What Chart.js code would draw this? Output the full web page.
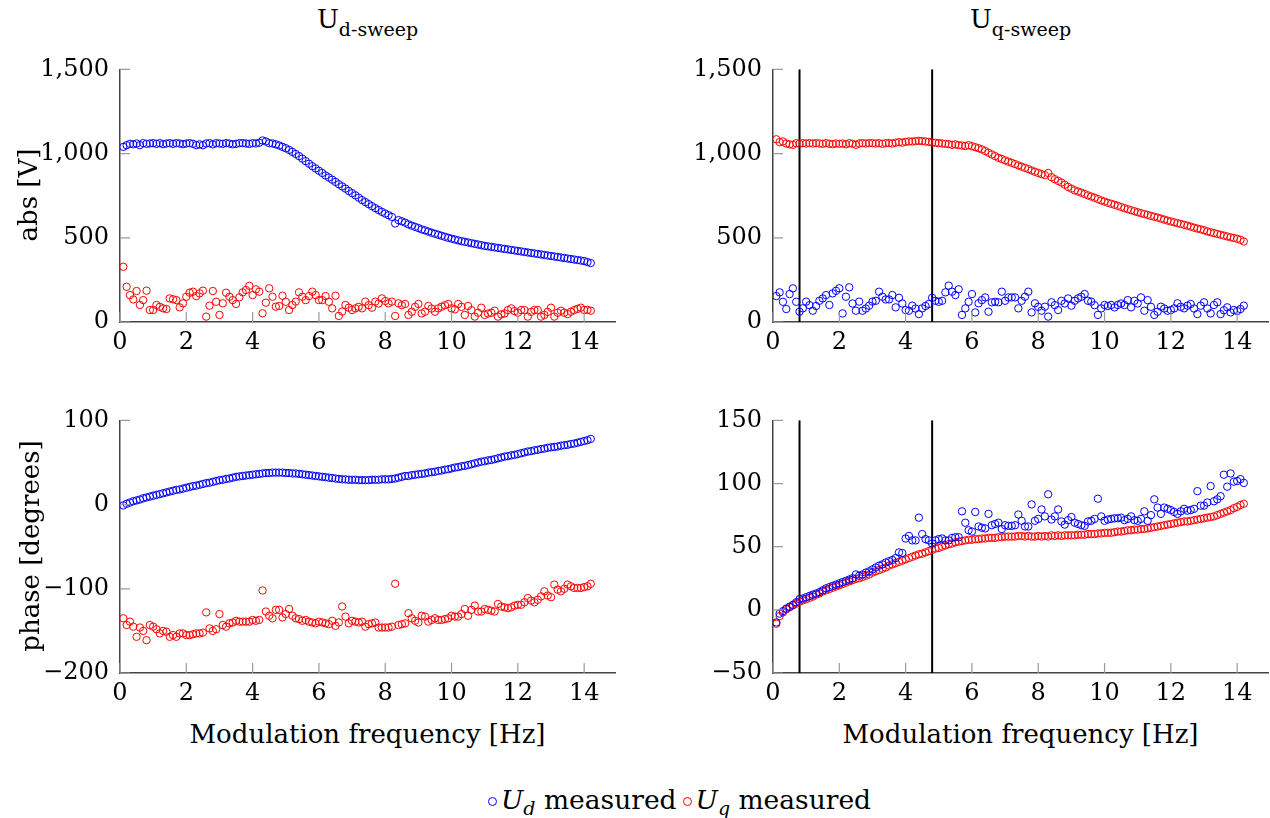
<!DOCTYPE html>
<html>
<head>
<meta charset="utf-8">
<script src="https://cdn.jsdelivr.net/npm/chart.js@4.4.1/dist/chart.umd.min.js"></script>
<style>
  body { margin: 0; background: #fff; }
  #fig { position: relative; width: 1270px; height: 818px; font-family: 'DejaVu Serif', serif; color: #000; overflow: hidden; }
  canvas { position: absolute; }
  .title { position: absolute; text-align: center; font-size: 26px; line-height: 26px; white-space: nowrap; }
  .title sub { font-size: 19px; vertical-align: -8px; line-height: 0; }
  .xlab { position: absolute; text-align: center; font-size: 26px; line-height: 26px; white-space: nowrap; }
  .ylab { position: absolute; font-size: 26px; line-height: 26px; white-space: nowrap; transform: translate(-50%, -50%) rotate(-90deg); }
  #legend { position: absolute; left: 488px; top: 787px; font-size: 26.5px; line-height: 26px; white-space: nowrap; display: flex; align-items: baseline; }
  #legend .mk { display: inline-block; width: 7px; height: 7px; border-radius: 50%; border: 1px solid; margin-right: 4px; position: relative; top: -3px; }
  #legend sub { font-size: 19px; vertical-align: -6px; line-height: 0; }
</style>
</head>
<body>
<div id="fig">
  <canvas id="c1" width="635" height="313" style="left:0;top:43px"></canvas>
  <canvas id="c2" width="617" height="313" style="left:653px;top:43px"></canvas>
  <canvas id="c3" width="635" height="313" style="left:0;top:394px"></canvas>
  <canvas id="c4" width="617" height="313" style="left:653px;top:394px"></canvas>

  <div class="title" style="left:120px;width:495px;top:6px">U<sub>d-sweep</sub></div>
  <div class="title" style="left:773px;width:495px;top:6px">U<sub>q-sweep</sub></div>
  <div class="ylab" style="left:28px;top:195px">abs [V]</div>
  <div class="ylab" style="left:30px;top:546px">phase [degrees]</div>
  <div class="xlab" style="left:120px;width:495px;top:721px">Modulation frequency [Hz]</div>
  <div class="xlab" style="left:773px;width:495px;top:721px">Modulation frequency [Hz]</div>
  <div id="legend">
    <span class="mk" style="border-color:#0000ff"></span><i>U<sub>d</sub></i>&nbsp;measured
    <span class="mk" style="border-color:#ff0000;margin-left:6px"></span><i>U<sub>q</sub></i>&nbsp;measured
  </div>
</div>
<script>
// modulation frequencies [Hz]
const freq = [
  0.1,0.2,0.3,0.4,0.5,0.6,0.7,0.8,0.9,1.0,
  1.1,1.2,1.3,1.4,1.5,1.6,1.7,1.8,1.9,2.0,
  2.1,2.2,2.3,2.4,2.5,2.6,2.7,2.8,2.9,3.0,
  3.1,3.2,3.3,3.4,3.5,3.6,3.7,3.8,3.9,4.0,
  4.1,4.2,4.3,4.4,4.5,4.6,4.7,4.8,4.9,5.0,
  5.1,5.2,5.3,5.4,5.5,5.6,5.7,5.8,5.9,6.0,
  6.1,6.2,6.3,6.4,6.5,6.6,6.7,6.8,6.9,7.0,
  7.1,7.2,7.3,7.4,7.5,7.6,7.7,7.8,7.9,8.0,
  8.1,8.2,8.3,8.4,8.5,8.6,8.7,8.8,8.9,9.0,
  9.1,9.2,9.3,9.4,9.5,9.6,9.7,9.8,9.9,10.0,
  10.1,10.2,10.3,10.4,10.5,10.6,10.7,10.8,10.9,11.0,
  11.1,11.2,11.3,11.4,11.5,11.6,11.7,11.8,11.9,12.0,
  12.1,12.2,12.3,12.4,12.5,12.6,12.7,12.8,12.9,13.0,
  13.1,13.2,13.3,13.4,13.5,13.6,13.7,13.8,13.9,14.0,
  14.1,14.2
];

// U_d-sweep, abs [V]
const udAbsD = [
  1040,1050,1058,1055,1060,1050,1062,1058,1060,1062,
  1058,1062,1056,1060,1062,1058,1062,1060,1056,1060,
  1062,1058,1050,1055,1050,1060,1062,1055,1062,1060,
  1058,1062,1060,1055,1058,1062,1062,1060,1058,1062,
  1060,1065,1078,1072,1062,1060,1055,1048,1040,1032,
  1022,1010,998,985,970,955,940,925,912,898,
  885,870,858,845,832,818,805,792,778,765,
  752,738,724,712,700,688,676,665,654,644,
  634,624,585,605,598,590,580,572,565,558,
  550,544,537,530,524,518,512,506,500,495,
  490,485,480,476,472,468,464,460,456,452,
  449,446,443,440,437,434,431,428,425,422,
  419,416,413,410,407,404,401,398,395,392,
  389,386,383,380,377,374,371,368,365,362,
  356,350
];
const uqAbsD = [
  328,209,160,134,184,101,130,186,71,71,
  101,90,81,77,140,135,130,87,111,150,
  174,180,154,170,186,32,97,184,120,42,
  111,174,150,130,107,147,176,190,215,160,
  194,180,52,115,200,150,91,95,156,120,
  71,101,121,176,150,130,154,180,160,130,
  130,154,120,81,156,36,62,101,85,71,
  81,90,81,121,100,85,121,110,140,125,
  111,121,36,111,100,107,42,61,90,107,
  51,61,95,80,61,81,91,100,107,81,
  75,107,90,42,95,70,32,55,85,42,
  50,55,67,32,45,51,71,81,65,55,
  71,71,32,60,71,71,32,42,60,85,
  32,55,67,55,47,61,71,78,85,71,
  72,67
];

// U_q-sweep, abs [V]
const udAbsQ = [
  154,176,120,77,166,200,120,61,81,121,
  100,67,95,126,140,160,101,170,185,200,
  51,150,206,110,67,121,67,80,97,121,
  126,180,150,134,134,160,87,144,110,71,
  67,97,80,47,81,95,107,144,126,120,
  126,176,216,180,160,194,42,81,120,166,
  57,111,130,146,61,117,120,117,180,126,
  146,146,146,81,126,150,180,57,111,90,
  67,91,32,117,100,71,126,110,140,97,
  126,140,150,166,126,121,100,42,81,101,
  95,101,87,101,110,101,130,87,126,110,
  146,67,130,90,42,61,91,80,67,71,
  81,111,90,81,97,107,80,47,97,117,
  80,51,101,117,47,70,87,57,71,65,
  77,97
];
const uqAbsQ = [
  1085,1068,1072,1060,1055,1052,1062,1058,1062,1060,
  1062,1060,1062,1060,1058,1062,1058,1056,1060,1058,
  1060,1055,1062,1058,1052,1060,1062,1060,1062,1062,
  1060,1062,1058,1062,1062,1060,1065,1068,1065,1070,
  1072,1072,1074,1076,1074,1072,1070,1066,1064,1062,
  1060,1058,1056,1052,1055,1050,1048,1045,1050,1044,
  1038,1032,1025,1015,1005,995,985,975,968,960,
  952,945,938,930,922,915,908,900,892,885,
  878,872,885,860,848,838,828,815,802,792,
  782,775,768,760,752,745,738,730,722,715,
  708,702,696,690,683,676,670,664,658,652,
  646,641,636,630,625,620,614,608,602,597,
  592,587,582,577,572,566,560,555,550,545,
  538,533,528,523,518,513,508,503,499,494,
  488,478
];

// U_d-sweep, phase [degrees]
const udPhaseD = [
  -1,1,2.5,4,5,6,7.5,8.5,9.5,10.5,
  11.5,12.5,13.5,14.5,15.5,16.5,17.5,18,19,20,
  21,22,22.5,23.5,24.5,25.5,26,27,28,29,
  29.5,30.5,31,32,33,33.5,34,34.5,35,35.5,
  36,36.5,37,37.5,37.5,38,38,38,38,37.5,
  37.5,37,37,36.5,36,35.5,35,34.5,34,33.5,
  33,32.5,32,31.5,31,30.5,30,30,29.5,29.5,
  29.5,29,29,29,29,29.5,29.5,29.5,30,30,
  30,30.5,31,32,33,34,34,35,35.5,36,
  36.5,37,38,38.5,39,40,40.5,41.5,42,43,
  44,44.5,45.5,46,47,48,49,50,51,51.5,
  52.5,53,54,55,56,57,57.5,58.5,59,60,
  61,62,63,63.5,64.5,65,66,66.5,67.5,68,
  68.5,69,70,70.5,71,72,72.5,73.5,74.5,75.5,
  76.5,78
];
const uqPhaseD = [
  -135,-143,-139,-145,-157,-146,-150,-161,-143,-145,
  -148,-153,-150,-151,-157,-155,-157,-153,-153,-155,
  -155,-154,-153,-153,-152,-128,-147,-150,-148,-130,
  -143,-145,-141,-140,-138,-139,-139,-139,-139,-137,
  -138,-137,-102,-127,-132,-135,-125,-125,-134,-130,
  -124,-132,-135,-136,-138,-137,-139,-140,-141,-139,
  -140,-141,-142,-138,-144,-140,-121,-133,-141,-138,
  -139,-140,-139,-145,-142,-141,-140,-146,-146,-146,
  -146,-145,-94,-143,-142,-141,-129,-135,-138,-140,
  -132,-133,-139,-137,-135,-137,-137,-136,-135,-132,
  -133,-133,-130,-124,-132,-125,-120,-127,-127,-124,
  -125,-126,-127,-118,-121,-122,-123,-122,-120,-119,
  -119,-116,-111,-114,-116,-113,-109,-103,-108,-110,
  -95,-101,-103,-100,-95,-97,-99,-99,-99,-98,
  -97,-94
];

// U_q-sweep, phase [degrees]
const udPhaseQ = [
  -10,-3,-1,1,2.5,4,6,8.5,9,10,
  11,12,13,14,15.5,17,18,19,20,21,
  22,23,24,25,28,27,28,29.5,30.5,32,
  33.5,35,36,37.5,38.5,39.5,41,45.5,45,56.5,
  58.5,55,55,73,60,56,55,52.5,55,56,
  56.5,55,55,57,57.5,57.5,78,69,63,62,
  77.5,66,65,64.5,76,67,68,69,64,67,
  66.5,66.5,67,75.5,70.5,66,66,83.5,70.5,72,
  79.5,74,91.5,71.5,74,79.5,70,67.5,71,73.5,
  69,68,67,66.5,70,70.5,72,88,74,70.5,
  71.5,72,72.5,72.5,73,71,72,74,71,70.5,
  72,78,70.5,75,87.5,81,76,81,80,79,
  77.5,76,78,80,78.5,79,80,94,82.5,82.5,
  85,98,86,87.5,90,107,97.5,108,101.5,102,
  103.5,100.5
];
const uqPhaseQ = [
  -11,-5,-2,0.5,2,3.5,5,6.5,7.5,8.5,
  9.5,10.5,12,13,14.5,15.5,16.5,17.5,18.5,19.5,
  20.5,21.5,22.5,23.5,24.5,25,26,27,28,29.5,
  30.5,31.5,32.5,33.5,35,36,37,38,39,40,
  41,42,43,44,44.5,45.5,46.5,47.5,48.5,49,
  50,51,52,52.5,53.5,54,54.5,55,55.5,55.5,
  56,56,56.5,56.5,57,57,57,57.5,57.5,58,
  58,58,58,58.5,58.5,58,58.5,58,58,58.5,
  58,58.5,58,59,58.5,59,58.5,59,59,59,
  59,59.5,59.5,59.5,60,60,60,60.5,60.5,61,
  61,61,61.5,62,62,62.5,63,63,63.5,63.5,
  64,64,64.5,65,65.5,66,66.5,67,67.5,68,
  68.5,69,69.5,70,70,70.5,71,71.5,72,72.5,
  73,73.5,74,75,76,77,78,79,80.5,81.5,
  83,84
];

// window limits of the q-sweep evaluation
const windowFreqs = [0.8, 4.8];

Chart.defaults.font.family = "'DejaVu Serif', serif";
Chart.defaults.font.size = 24;
Chart.defaults.color = '#000';

// pgfplots-like ticks pointing into the plot
const innerTicks = {
    id: 'innerTicks',
    afterDraw(chart) {
        const { ctx, chartArea, scales } = chart;
        ctx.save();
        ctx.strokeStyle = '#9a9a9a';
        ctx.lineWidth = 1.2;
        ctx.beginPath();
        scales.x.ticks.forEach(t => {
            const px = scales.x.getPixelForValue(t.value);
            ctx.moveTo(px, chartArea.bottom);
            ctx.lineTo(px, chartArea.bottom - 10);
        });
        scales.y.ticks.forEach(t => {
            const py = scales.y.getPixelForValue(t.value);
            ctx.moveTo(chartArea.left, py);
            ctx.lineTo(chartArea.left + 10, py);
        });
        ctx.stroke();
        ctx.restore();
    }
};

const freqMarkers = {
    id: 'freqMarkers',
    beforeDatasetsDraw(chart, args, opts) {
        if (!opts.freqs) return;
        const { ctx, chartArea, scales } = chart;
        ctx.save();
        ctx.strokeStyle = '#000';
        ctx.lineWidth = 2;
        opts.freqs.forEach(f => {
            const px = scales.x.getPixelForValue(f);
            ctx.beginPath();
            ctx.moveTo(px, chartArea.bottom);
            ctx.lineTo(px, chartArea.top);
            ctx.stroke();
        });
        ctx.restore();
    }
};

function points(ys) {
    return freq.map((f, i) => ({ x: f, y: ys[i] }));
}

function makePanel(id, blue, red, yMin, yMax, yStep, markers) {
    const ctx = document.getElementById(id).getContext('2d');
    return new Chart(ctx, {
        type: 'scatter',
        data: {
            datasets: [{
                label: 'U_d measured',
                data: points(blue),
                borderColor: '#0000ff',
                backgroundColor: 'rgba(0,0,0,0)',
                pointRadius: 3.7,
                pointBorderWidth: 1,
                pointHoverRadius: 3.7
            }, {
                label: 'U_q measured',
                data: points(red),
                borderColor: '#ff0000',
                backgroundColor: 'rgba(0,0,0,0)',
                pointRadius: 3.7,
                pointBorderWidth: 1,
                pointHoverRadius: 3.7
            }]
        },
        options: {
            responsive: false,
            maintainAspectRatio: false,
            animation: false,
            layout: {
                padding: { top: 20, right: 20, left: 0, bottom: 0 }
            },
            plugins: {
                legend: { display: false },
                tooltip: { enabled: false },
                freqMarkers: { freqs: markers }
            },
            scales: {
                x: {
                    type: 'linear',
                    min: 0,
                    max: 14.93,
                    afterFit: s => { s.height = 40; },
                    grid: { display: true, drawOnChartArea: false, drawTicks: false },
                    border: { display: true, color: '#444', width: 1.5 },
                    ticks: { stepSize: 2, includeBounds: false, maxRotation: 0, autoSkip: false, padding: 6 }
                },
                y: {
                    type: 'linear',
                    min: yMin,
                    max: yMax,
                    afterFit: s => { s.width = 120; },
                    grid: { display: true, drawOnChartArea: false, drawTicks: false },
                    border: { display: true, color: '#444', width: 1.5 },
                    ticks: {
                        stepSize: yStep,
                        padding: 11,
                        callback: v => Number(v).toLocaleString('en-US').replace('-', '\u2212')
                    }
                }
            }
        },
        plugins: [innerTicks, freqMarkers]
    });
}

// move/resize each canvas so that its plot area sits on the intended box
function placeArea(chart, left, top, width, height) {
    const canvas = chart.canvas;
    let a = chart.chartArea;
    const dw = width - (a.right - a.left);
    const dh = height - (a.bottom - a.top);
    if (Math.abs(dw) > 0.1 || Math.abs(dh) > 0.1) {
        chart.resize(Math.round(chart.width + dw), Math.round(chart.height + dh));
        a = chart.chartArea;
    }
    canvas.style.left = (left - a.left) + 'px';
    canvas.style.top = (top - a.top) + 'px';
}

const p1 = makePanel('c1', udAbsD, uqAbsD, 0, 1500, 500, null);
const p2 = makePanel('c2', udAbsQ, uqAbsQ, 0, 1500, 500, windowFreqs);
const p3 = makePanel('c3', udPhaseD, uqPhaseD, -200, 100, 100, null);
const p4 = makePanel('c4', udPhaseQ, uqPhaseQ, -50, 150, 50, windowFreqs);

placeArea(p1, 120, 69, 495, 253);
placeArea(p2, 773, 69, 495, 253);
placeArea(p3, 120, 420, 495, 253);
placeArea(p4, 773, 420, 495, 253);
</script>
</body>
</html>
